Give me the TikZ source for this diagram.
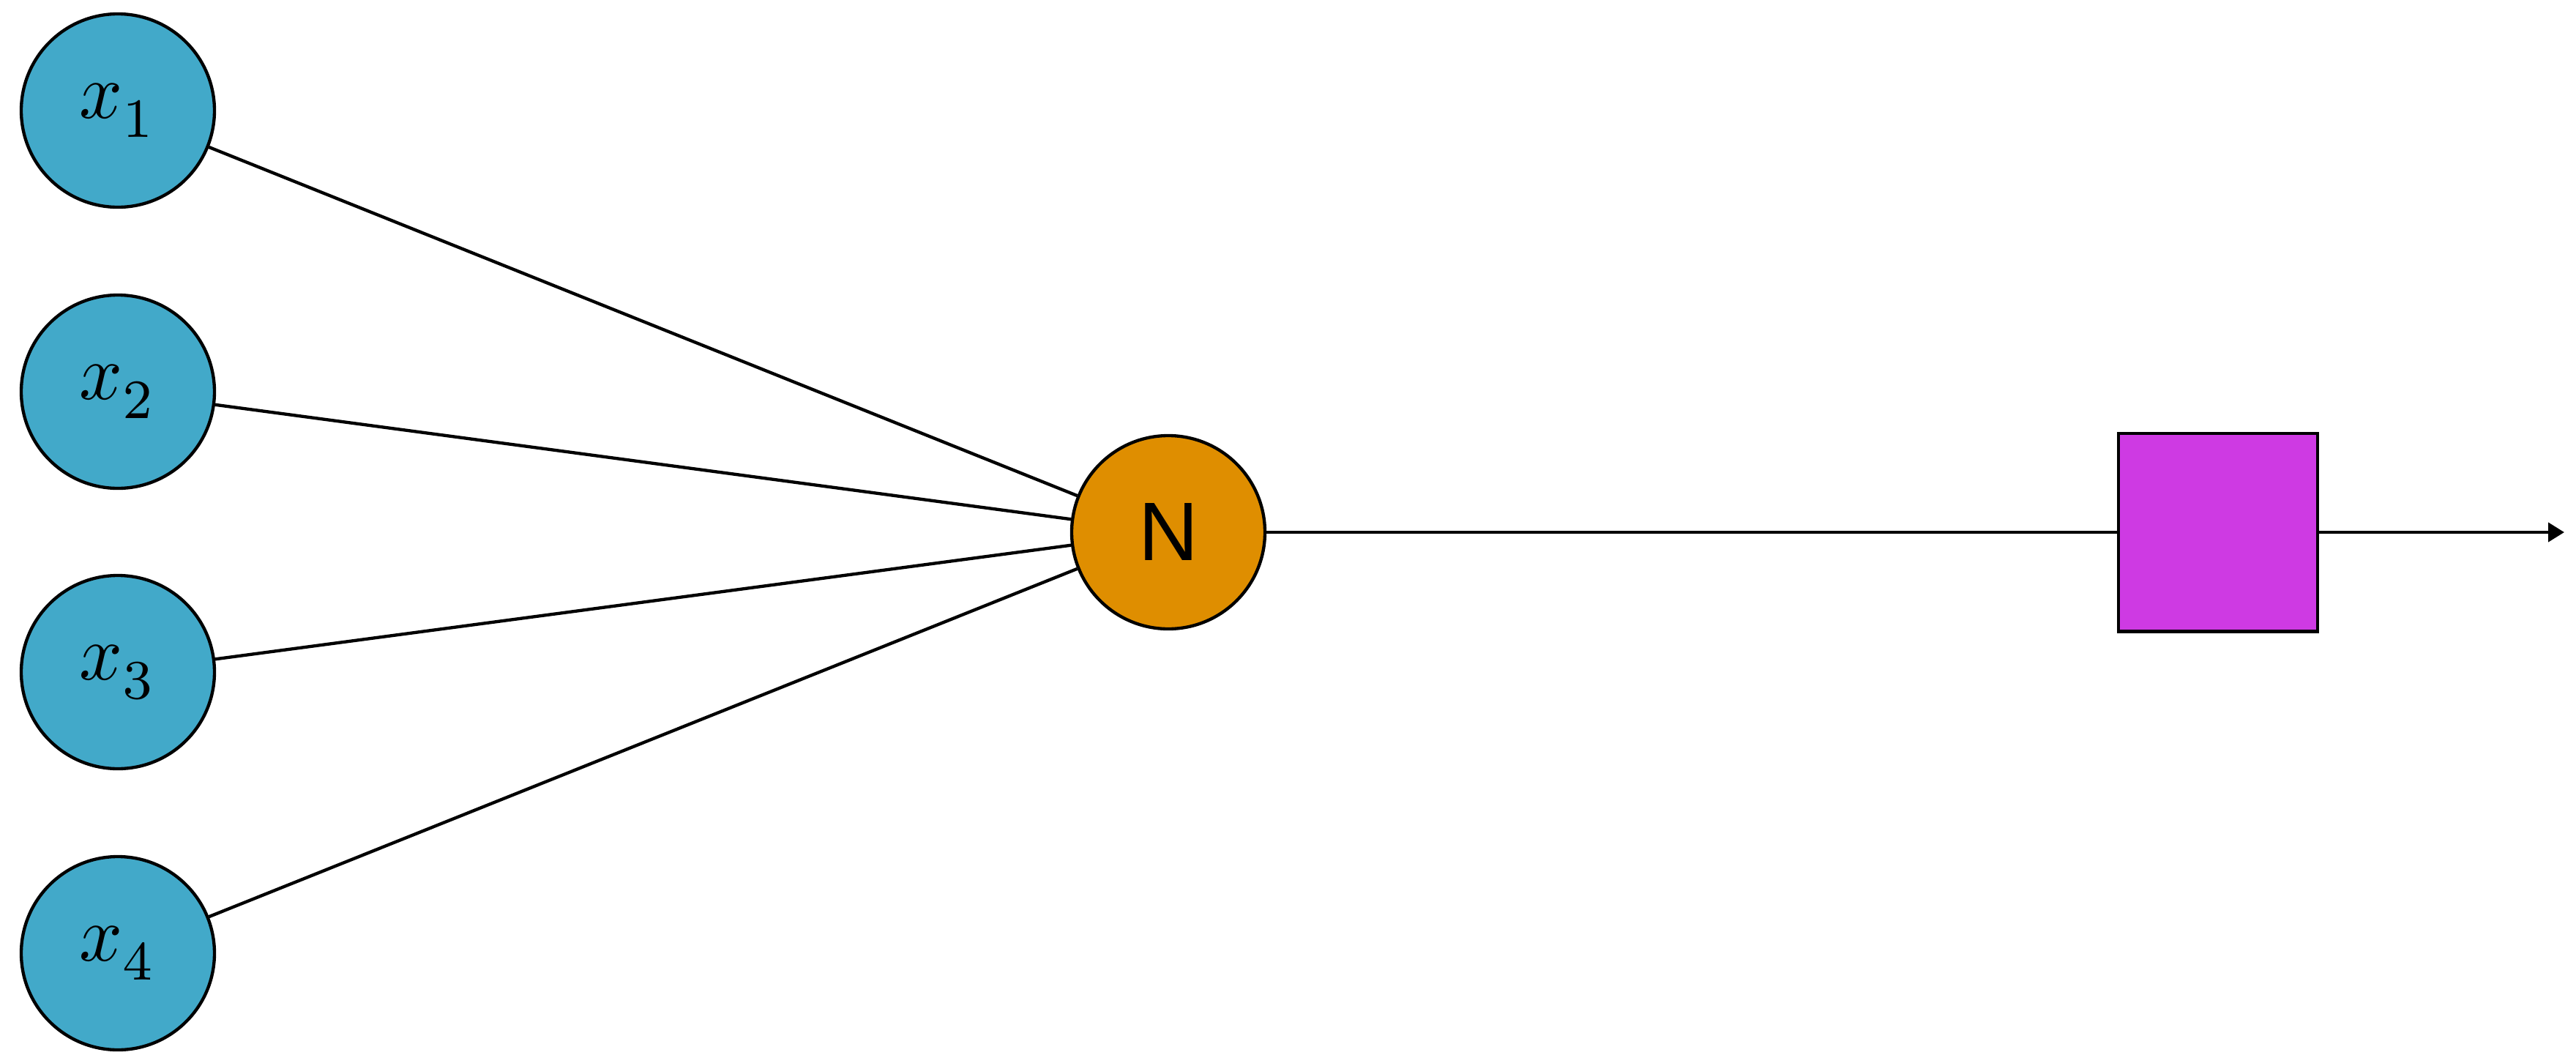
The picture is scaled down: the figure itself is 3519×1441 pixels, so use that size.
\documentclass[tikz,border=0pt]{standalone}
\usepackage{graphicx}
\usepackage{fontspec}
\setsansfont{Liberation Sans}
\usetikzlibrary{arrows.meta}
\definecolor{inblue}{HTML}{42A9C9}
\definecolor{norange}{HTML}{DF8E00}
\definecolor{boxmag}{HTML}{CE3AE3}
\newcommand\xlab[1]{\scalebox{3.1}[3.25]{$x_{\raisebox{-0.9pt}{$\scriptstyle #1$}}$}}
\begin{document}
\begin{tikzpicture}[x=0.3pt,y=-0.3pt,
  innode/.style={circle,draw=black,line width=1.3pt,fill=inblue,minimum size=79.2pt,inner sep=0pt},
  neuron/.style={circle,draw=black,line width=1.3pt,fill=norange,minimum size=79.2pt,inner sep=0pt,font=\sffamily\fontsize{34}{36}\selectfont},
  boxnode/.style={rectangle,draw=black,line width=1.3pt,fill=boxmag,minimum width=81.6pt,minimum height=81.2pt,inner sep=0pt},
  conn/.style={draw=black,line width=1.3pt}]
\useasboundingbox (0,0) rectangle (3519,1441);
\node[innode] (x1) at (161,151) {\xlab{1}};
\node[innode] (x2) at (161,535) {\xlab{2}};
\node[innode] (x3) at (161,918) {\xlab{3}};
\node[innode] (x4) at (161,1302) {\xlab{4}};
\node[neuron] (n) at (1596,727) {N};
\node[boxnode] (b) at (3030,727) {};
\coordinate (out) at (3503,727);
\draw[conn] (x1) -- (n);
\draw[conn] (x2) -- (n);
\draw[conn] (x3) -- (n);
\draw[conn] (x4) -- (n);
\draw[conn] (n) -- (b);
\draw[conn,-{Triangle[length=6.6pt,width=7.8pt]}] (b.east) -- (out);
\end{tikzpicture}
\end{document}
